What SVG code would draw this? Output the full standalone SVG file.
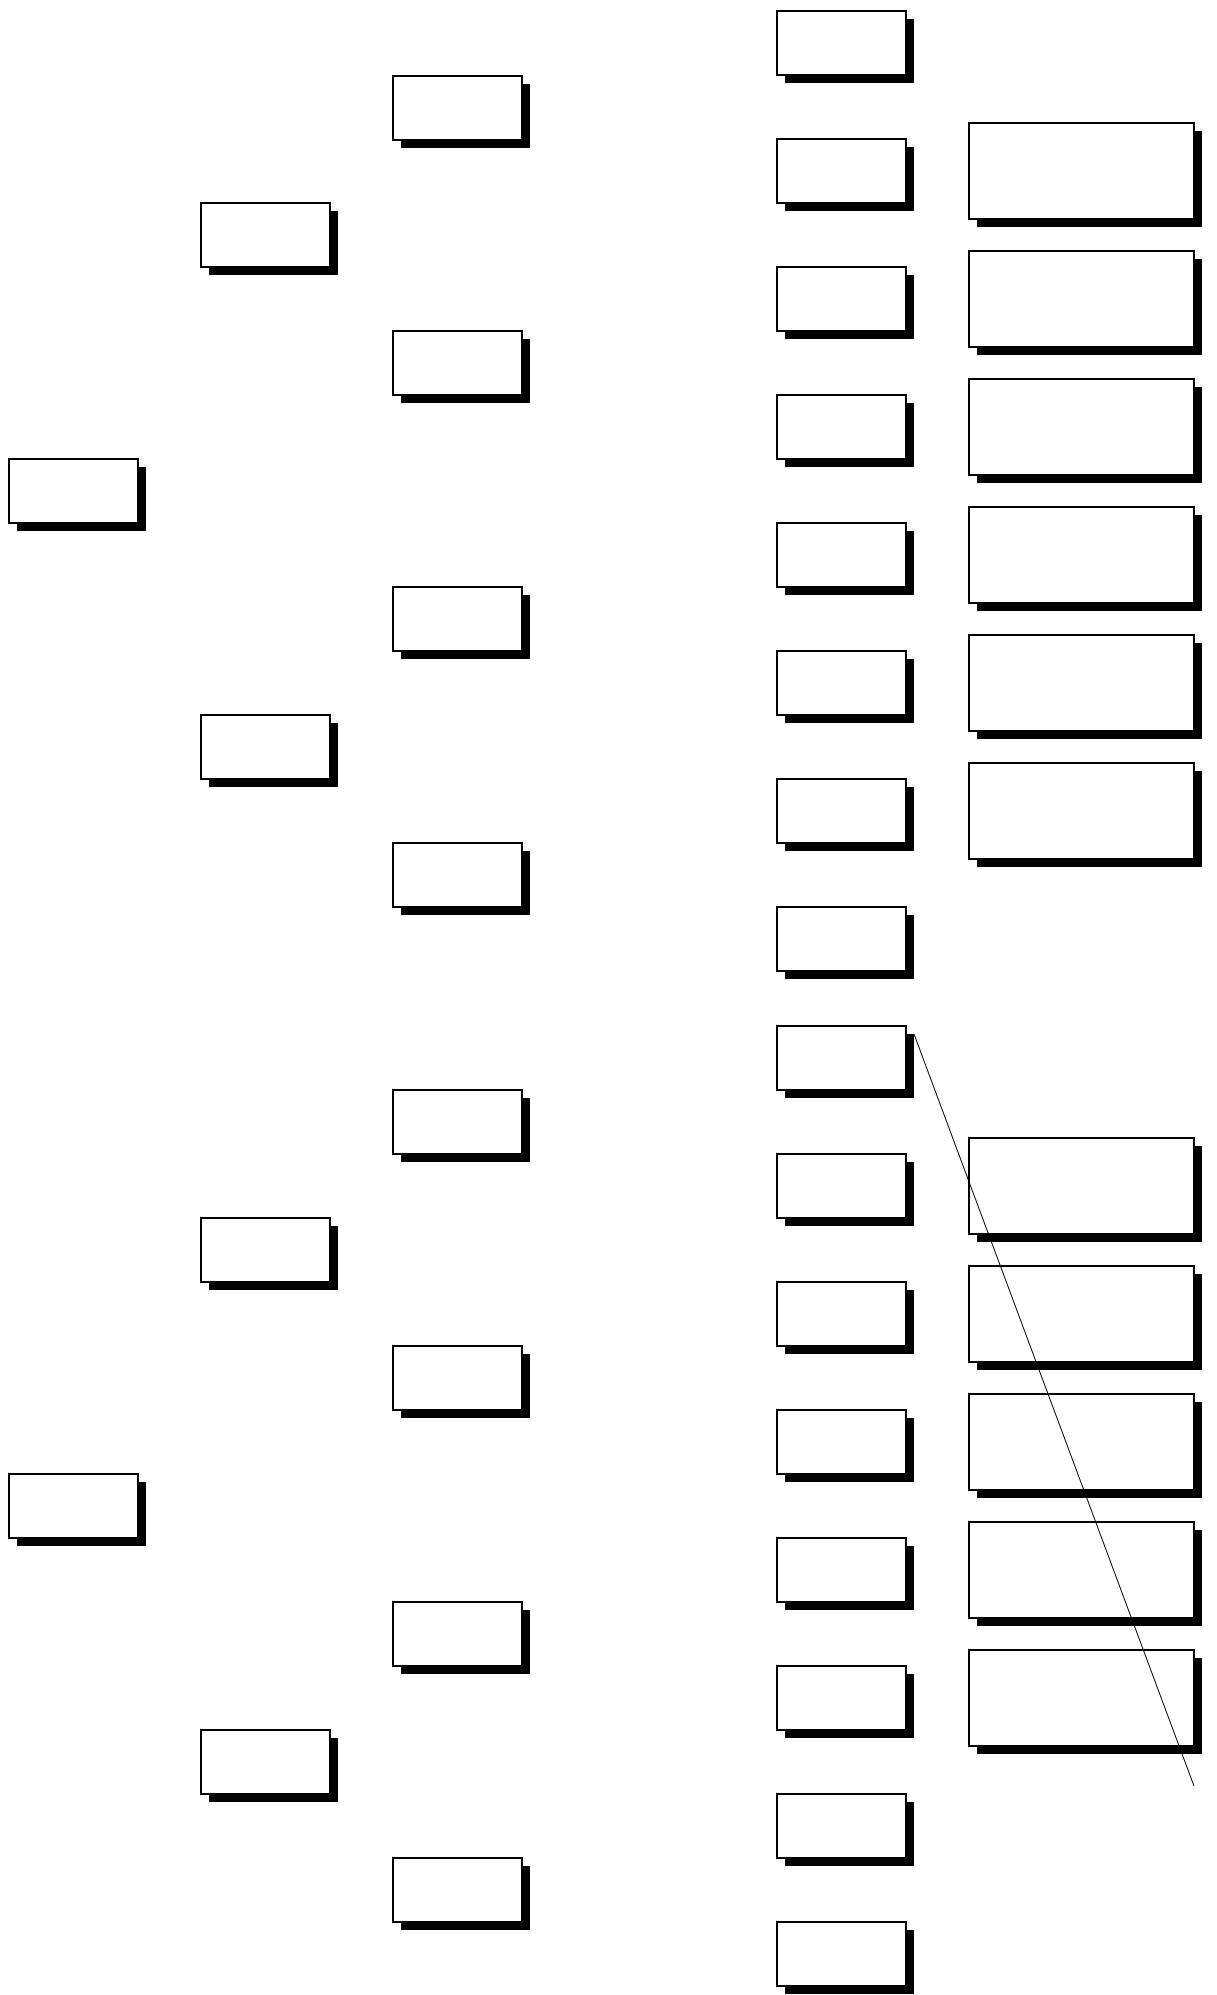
<svg xmlns="http://www.w3.org/2000/svg" width="1217" height="1995" viewBox="0 0 1217 1995">
<style>
.sh{fill:#000;stroke:none}
.bx{fill:#fff;stroke:#000;stroke-width:2}
.cn{fill:none;stroke:#000;stroke-width:1}
</style>
<defs>
<g id="s"><rect class="sh" x="8" y="8" width="129" height="64"/><rect class="bx" x="0" y="0" width="129" height="64"/></g>
<g id="b"><rect class="sh" x="8" y="8" width="225" height="96"/><rect class="bx" x="0" y="0" width="225" height="96"/></g>
</defs>
<rect width="1217" height="1995" fill="#fff"/>
<g id="nodes">
<g id="c1n1"><use href="#s" x="9" y="459"/></g>
<g id="c1n2"><use href="#s" x="9" y="1474"/></g>
<g id="c2n1"><use href="#s" x="201" y="203"/></g>
<g id="c2n2"><use href="#s" x="201" y="715"/></g>
<g id="c2n3"><use href="#s" x="201" y="1218"/></g>
<g id="c2n4"><use href="#s" x="201" y="1730"/></g>
<g id="c3n1"><use href="#s" x="393" y="76"/></g>
<g id="c3n2"><use href="#s" x="393" y="331"/></g>
<g id="c3n3"><use href="#s" x="393" y="587"/></g>
<g id="c3n4"><use href="#s" x="393" y="843"/></g>
<g id="c3n5"><use href="#s" x="393" y="1090"/></g>
<g id="c3n6"><use href="#s" x="393" y="1346"/></g>
<g id="c3n7"><use href="#s" x="393" y="1602"/></g>
<g id="c3n8"><use href="#s" x="393" y="1858"/></g>
<g id="c4n1"><use href="#s" x="777" y="11"/></g>
<g id="c4n2"><use href="#s" x="777" y="139"/></g>
<g id="c4n3"><use href="#s" x="777" y="267"/></g>
<g id="c4n4"><use href="#s" x="777" y="395"/></g>
<g id="c4n5"><use href="#s" x="777" y="523"/></g>
<g id="c4n6"><use href="#s" x="777" y="651"/></g>
<g id="c4n7"><use href="#s" x="777" y="779"/></g>
<g id="c4n8"><use href="#s" x="777" y="907"/></g>
<g id="c4n9"><use href="#s" x="777" y="1026"/></g>
<g id="c4n10"><use href="#s" x="777" y="1154"/></g>
<g id="c4n11"><use href="#s" x="777" y="1282"/></g>
<g id="c4n12"><use href="#s" x="777" y="1410"/></g>
<g id="c4n13"><use href="#s" x="777" y="1538"/></g>
<g id="c4n14"><use href="#s" x="777" y="1666"/></g>
<g id="c4n15"><use href="#s" x="777" y="1794"/></g>
<g id="c4n16"><use href="#s" x="777" y="1922"/></g>
<g id="c5n1"><use href="#b" x="969" y="123"/></g>
<g id="c5n2"><use href="#b" x="969" y="251"/></g>
<g id="c5n3"><use href="#b" x="969" y="379"/></g>
<g id="c5n4"><use href="#b" x="969" y="507"/></g>
<g id="c5n5"><use href="#b" x="969" y="635"/></g>
<g id="c5n6"><use href="#b" x="969" y="763"/></g>
<g id="c5n7"><use href="#b" x="969" y="1138"/></g>
<g id="c5n8"><use href="#b" x="969" y="1266"/></g>
<g id="c5n9"><use href="#b" x="969" y="1394"/></g>
<g id="c5n10"><use href="#b" x="969" y="1522"/></g>
<g id="c5n11"><use href="#b" x="969" y="1650"/></g>
</g>
<g id="connectors">
<line class="cn" x1="914" y1="1034" x2="1194" y2="1786"/>
</g>
</svg>
